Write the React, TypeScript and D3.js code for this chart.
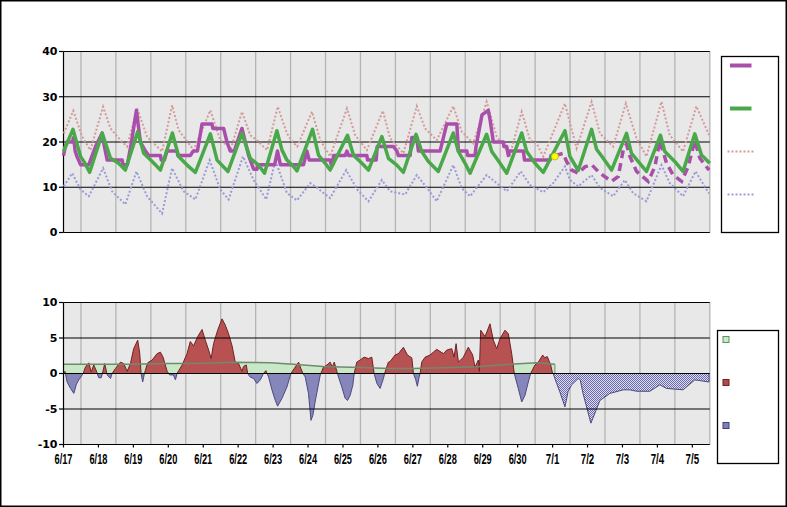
import React from 'react';
import * as d3 from 'd3';

type P = [number, number];

// hours since 6/17 00:00
const dayLabels = ["6/17","6/18","6/19","6/20","6/21","6/22","6/23","6/24","6/25","6/26","6/27","6/28","6/29","6/30","7/1","7/2","7/3","7/4","7/5"];
const topTicks = [0, 10, 20, 30, 40];
const bottomTicks = [-10, -5, 0, 5, 10];

const normalTemp: P[] = [[0,17.9],[6.5,22.8],[11.7,16.8],[14.4,15.5],[18,13.3],[26.6,21.9],[32.3,16.4],[37.9,15.3],[42.5,13.8],[51,22.3],[55.1,17.5],[60.9,15.7],[66.6,13.8],[74.8,22],[79.1,16.8],[84.9,14.9],[90.6,13.3],[100.9,21.8],[105.5,16],[113,13.5],[122.6,21.9],[128.3,16.4],[134,14.9],[138.1,13.1],[146.6,22.5],[150.1,18.2],[153.5,16],[158,14.6],[160.4,13.6],[171.1,22.8],[175.2,17.1],[179.8,15.3],[183.2,13.8],[195.1,21.5],[199.2,17.1],[205,15.3],[209.5,13.8],[218.7,21.2],[223.2,16.4],[229,14.9],[233.5,13.3],[242.2,21.7],[246.1,17.9],[250.7,15.7],[257.5,13.5],[267.8,22],[271.3,17.9],[275.9,15.3],[279.3,13.1],[290.7,21.7],[294.2,17.9],[299.9,15.3],[304.5,13.1],[314.8,22],[318.2,17.9],[323.9,15.3],[329.6,13.3],[344.5,22.5],[347.9,16.8],[353.6,13.7],[362.8,22.8],[366.2,18.4],[370.8,16.4],[376.5,13.8],[386.8,21.9],[390.2,17.5],[395.9,15.3],[400.5,13.5],[410.1,21.5],[413.1,17.9],[419.9,15.7],[425.6,13.5],[433.7,21.8],[438.3,17.1],[444,15.3]];

const observedTemp: P[] = [[0,17],[1.2,19],[2.3,20],[6,20],[7,21],[8,18],[9,17],[11.7,15],[17.4,15],[22,19],[26.6,22],[28.1,19],[30,16],[40.3,16],[40.8,15],[43.9,15],[46.7,20],[50.1,27],[52.8,20],[56.3,18],[58.5,17],[66.6,17],[67.2,16],[69.3,16],[71.1,18],[78,18],[78.6,17],[87.1,17],[89.2,18],[92,18],[95.2,24],[102,24],[102.6,23],[110,23],[112.3,20],[114.6,18],[117.3,18],[122.6,23],[127.2,17],[130.6,14],[132.9,14],[133.8,15],[145.1,15],[147,18],[149,15],[164.9,15],[167.2,18],[168.8,16],[183.2,16],[183.9,15],[184.9,15],[185.5,17],[193.5,17],[194.7,18],[195.9,17],[208.4,17],[208.9,16],[214.8,16],[215.5,19],[226.7,19],[229,18],[230.1,17],[238.1,17],[239.3,21],[242.7,21],[243.8,18],[258.7,18],[263.3,24],[270.2,24],[271.3,18],[277.1,18],[277.6,17],[282.7,17],[283.4,19],[287.5,26],[291.8,27],[293,25],[295.3,20],[302.2,20],[302.6,19],[304.5,19],[305.6,17],[306.4,18],[315.9,18],[316.7,16],[334.2,16],[334.9,17],[337.6,17]];

const forecastTemp: P[] = [[337.6,17],[343.3,17.5],[345.6,15.7],[349.1,13.8],[353.6,13.1],[358.2,14.5],[362.8,15],[368.5,13.1],[376.5,11.3],[381.1,12.4],[384.5,18.2],[386.8,19.5],[389.1,16.8],[393.7,13.5],[401.7,11.3],[406.3,14.6],[409.7,20.3],[414.3,15.3],[418.8,12.7],[424.6,11.3],[429.2,14.6],[433.7,20.3],[437.2,16.4],[443.5,13.8]];

const currentPoint: P = [337.6, 16.8];

const recordHigh: P[] = [[0.2,21.9],[6.7,26.9],[12.8,21.2],[18.5,18.2],[27.2,27.8],[32.3,23],[39.1,20.4],[43.7,19],[50.6,27.4],[57.4,21.2],[62,19.7],[67.7,17.9],[74.6,28.1],[79.1,22.6],[86,19.7],[89.4,18.2],[100.9,27],[107.7,20.4],[115.1,18.6],[122.6,26.7],[128.3,21.5],[132.9,20.4],[139.8,18.2],[147.2,27.8],[153.5,21.9],[157.1,20.1],[160.6,19],[170.7,26.7],[176.4,20.4],[183.2,16.8],[194.7,27.4],[200.4,21.5],[208.4,18.2],[219.4,26.9],[224.4,20.8],[233.5,17.5],[242.7,27.9],[248.4,23],[256.4,20.4],[267.8,27.9],[273.6,22.3],[281.5,19.7],[290.7,28.9],[297.6,21.2],[306.7,17.1],[314.8,26.7],[320.5,20.4],[325,19.7],[329.6,16.8],[344.5,28.5],[352.5,18.6],[362.8,28.9],[368.5,21.9],[377.6,19],[386.3,28.5],[393.7,20.8],[400.5,16.8],[410.8,28.9],[416.5,21.5],[425.6,17.9],[434.8,27.9],[443.5,21.5]];

const recordLow: P[] = [[0.2,10.2],[6,13.1],[11.7,9.5],[17.4,8],[27.2,14.2],[33.4,9.1],[42.5,6.2],[50.1,13.5],[57.4,8],[67.7,4.2],[74.6,14.2],[82.5,9.1],[90.6,7.3],[100.4,16],[107.7,9.5],[113.4,7.3],[123.3,16.8],[130.6,11.6],[139.3,7.3],[145.5,16],[153.5,8.7],[160.4,7.1],[169.5,10.9],[172.9,10.2],[183.2,7.6],[194.2,13.8],[201.7,9.5],[209.5,6.9],[218.7,11.6],[224.4,9.1],[234.7,8.4],[242.7,12.7],[249.6,9.9],[256.4,6.9],[267.8,14.9],[273.6,9.8],[279.3,8],[290.7,12.7],[297.6,10.9],[304.5,9.1],[314.1,13.5],[320.5,10.5],[329.6,8.9],[336.4,10.9],[344.5,14.6],[347.9,11.6],[353.6,10.2],[362.8,12.7],[368.5,9.9],[377.6,8],[385.6,11.6],[391.3,8.7],[400.5,6.9],[410.8,14.9],[416.5,10.9],[425.6,8],[434.2,13.5],[443.5,8.6]];

const baselineDeparture: P[] = [[0,1.3],[46,1.3],[71.2,1.4],[98.6,1.45],[116.8,1.6],[142.2,1.5],[157.9,1.3],[178.5,1.0],[203.8,0.85],[224.4,0.7],[240.2,0.7],[260.8,0.8],[284,0.95],[306.7,1.3],[325,1.5],[337.6,1.3]];

const observedDeparture: P[] = [[0,0],[1,0.3],[2.5,-1.2],[4.8,-2.1],[7.1,-2.8],[8.9,-1.5],[10.5,-0.9],[13.5,0],[15.1,0.9],[17.4,1.5],[19,0.2],[20.8,1.2],[22.3,0.5],[24.2,-0.6],[25.9,-0.6],[27,0.2],[28.3,1.4],[30,-0.2],[32.3,-0.7],[33.4,0],[35.7,0.7],[39.1,1.6],[41.4,1.4],[43.7,0.3],[46,1.4],[48.2,3.5],[51,4.7],[52.4,2.8],[53.3,0],[54.4,-1.2],[55.6,0],[57.8,1.5],[60.9,1.9],[64.3,2.8],[66.6,3.0],[68.4,2.3],[71.2,0.3],[72.9,-0.2],[75.5,-0.2],[76.9,-0.9],[78,0],[81.5,1.2],[84.9,2.8],[87.1,4.5],[89.4,3.9],[92.2,5.2],[95.2,6.2],[97.4,4.7],[99.7,3.3],[101.4,2.1],[103.1,4.2],[105.9,6.1],[108.9,7.7],[111.2,6.8],[113.4,5.6],[115.8,3.9],[118,1.6],[120.3,1.4],[122.6,0.3],[123.7,1.0],[125.6,1.2],[126.5,0],[128.3,-0.5],[130.6,-0.7],[132.9,-1.4],[135.2,-0.9],[137.4,0],[139,0.4],[140.9,-0.5],[143.2,-2.3],[145.5,-3.8],[147.1,-4.6],[150.1,-3.5],[153.5,-1.9],[156.2,0],[159.2,0.9],[161.5,1.6],[163.1,0.7],[164.5,0],[166.1,-0.5],[168.3,-2.8],[170,-6.6],[171.3,-5.9],[173.3,-3.5],[176.4,-0.2],[178.6,0.9],[181,1.2],[183.2,1.6],[184.6,0.9],[186,1.6],[187.8,0.3],[188.9,-0.5],[191.2,-1.9],[193.5,-3.5],[195.1,-3.8],[196.9,-3.1],[198.8,-1.6],[199.7,0],[201.5,1.6],[203.8,1.9],[206.5,2.3],[209.5,2.1],[211.8,2.3],[213.4,0],[215.3,-1.4],[217.5,-2.1],[219.8,-0.7],[220.6,0],[223.2,1.6],[224.4,1.7],[227.8,2.6],[230.1,2.8],[233.5,3.7],[236.3,2.6],[239.3,2.2],[240.4,0],[242,-0.9],[243.1,-1.8],[244.3,-0.5],[245,0],[246.1,1.6],[248.4,2.3],[251.8,2.6],[256.4,3.4],[258.7,3.1],[261,2.8],[263.3,3.3],[266.7,3.5],[268.3,2.3],[269.7,4.2],[271.3,1.6],[274.7,2.3],[278.1,3.7],[281.1,2.6],[282.7,0.9],[285,1.9],[285.7,0.3],[286.6,6.1],[289.6,5.2],[293,7.0],[295.3,4.7],[297.6,3.5],[299.9,4.9],[303.3,6.1],[305.6,5.6],[307.9,2.8],[309.7,0],[312.4,-2.1],[314.8,-4.0],[317,-3.1],[319.3,-1.2],[320.9,0],[323.9,1.2],[326.2,1.6],[329.2,2.6],[330.7,2.2],[332.3,2.4],[334.7,1.2],[336,0]];

const forecastDeparture: P[] = [[336.4,0],[338.8,-1.4],[341,-2.6],[344.5,-4.7],[346.7,-2.5],[349.1,-1.6],[353.6,-0.7],[355,-0.9],[356.9,-2.8],[362.3,-7.0],[366.2,-5.0],[368.5,-3.8],[375.4,-2.8],[384.5,-2.3],[389.1,-2.3],[393.7,-2.5],[402.8,-2.5],[409.7,-1.6],[414.3,-2.1],[425.6,-2.3],[433.7,-0.9],[437.2,-1.0],[443.5,-1.2]];

const FONT = "'DejaVu Sans', Verdana, sans-serif";
const XFONT = "'Liberation Sans Narrow', 'Liberation Sans', Arial, sans-serif";

export default function App() {
  const x = d3.scaleLinear().domain([0, 444]).range([63.5, 709.8]);
  const yT = d3.scaleLinear().domain([0, 40]).range([232.5, 51.5]);
  const yB = d3.scaleLinear().domain([-10, 10]).range([444.5, 302.5]);

  const lineT = d3.line<P>().x(d => x(d[0])).y(d => yT(d[1]));
  const lineB = d3.line<P>().x(d => x(d[0])).y(d => yB(d[1]));
  const areaB = d3.area<P>().x(d => x(d[0])).y0(yB(0)).y1(d => yB(d[1]));

  const noonHours = d3.range(12, 445, 24);
  const dayHours = dayLabels.map((_, i) => i * 24);
  const x0 = 63.5, x1 = 709.8;

  const purple = '#a94fab';
  const green = '#4aa84a';
  const pink = '#d49a9a';
  const lav = '#9a9ad8';

  return (
    <div>
      <style>{`body{margin:0}`}</style>
      <svg width={787} height={507} style={{ display: 'block', background: '#fff' }}>
        <defs>
          <pattern id="hatch" width={2} height={2} patternUnits="userSpaceOnUse">
            <rect width={2} height={2} fill="#dcdcf0" />
            <rect width={1} height={1} fill="#6a6aac" />
            <rect x={1} y={1} width={1} height={1} fill="#6a6aac" />
          </pattern>
          <clipPath id="pos"><rect x={x0} y={302} width={x1 - x0} height={yB(0) - 302} /></clipPath>
          <clipPath id="neg"><rect x={x0} y={yB(0)} width={x1 - x0} height={445 - yB(0)} /></clipPath>
        </defs>
        <rect x={0.75} y={0.75} width={785.5} height={505.5} fill="none" stroke="#000" strokeWidth={1.5} />

        {/* ===== TOP CHART ===== */}
        <rect x={x0} y={yT(40)} width={x1 - x0} height={yT(0) - yT(40)} fill="#e8e8e8" />
        {noonHours.map(h => (
          <line key={'vt' + h} x1={x(h)} x2={x(h)} y1={yT(40)} y2={yT(0)} stroke="#b4b4b4" strokeWidth={1.3} />
        ))}
        {topTicks.map(t => (
          <g key={'tt' + t}>
            <line x1={x0} x2={x1} y1={yT(t)} y2={yT(t)} stroke="#000" strokeWidth={1.2} />
            <line x1={x0 - 4.5} x2={x0} y1={yT(t)} y2={yT(t)} stroke="#000" strokeWidth={1.2} />
            <text x={57.5} y={yT(t)} dy="0.36em" textAnchor="end" fontFamily={FONT} fontWeight="bold" fontSize={11} fill="#000">{t}</text>
          </g>
        ))}
        <line x1={x0} x2={x0} y1={yT(40)} y2={yT(0)} stroke="#000" strokeWidth={1.2} />

        <path d={lineT(recordHigh) || ''} fill="none" stroke={pink} strokeWidth={2} strokeDasharray="2 2" />
        <path d={lineT(recordLow) || ''} fill="none" stroke={lav} strokeWidth={2} strokeDasharray="2 2" />
        <path d={lineT(observedTemp) || ''} fill="none" stroke={purple} strokeWidth={3.5} strokeLinejoin="round" />
        <path d={lineT(forecastTemp) || ''} fill="none" stroke={purple} strokeWidth={3.5} strokeDasharray="8 5" />
        <path d={lineT(normalTemp) || ''} fill="none" stroke={green} strokeWidth={3.5} strokeLinejoin="round" />
        <circle cx={x(currentPoint[0])} cy={yT(currentPoint[1])} r={3.5} fill="#ffff00" stroke="#b8b800" strokeWidth={0.8} />

        {/* top legend */}
        <rect x={721.5} y={56.5} width={57} height={176} fill="#fff" stroke="#000" strokeWidth={1.3} />
        <line x1={730} x2={751.5} y1={65.5} y2={65.5} stroke={purple} strokeWidth={4} />
        <line x1={730} x2={751.5} y1={108.5} y2={108.5} stroke={green} strokeWidth={4} />
        <line x1={727.5} x2={755} y1={151.5} y2={151.5} stroke={pink} strokeWidth={2} strokeDasharray="2 2" />
        <line x1={727.5} x2={755} y1={194.5} y2={194.5} stroke={lav} strokeWidth={2} strokeDasharray="2 2" />

        {/* ===== BOTTOM CHART ===== */}
        <rect x={x0} y={yB(10)} width={x1 - x0} height={yB(-10) - yB(10)} fill="#e8e8e8" />
        {noonHours.map(h => (
          <line key={'vb' + h} x1={x(h)} x2={x(h)} y1={yB(10)} y2={yB(-10)} stroke="#b4b4b4" strokeWidth={1.3} />
        ))}
        <path d={areaB(baselineDeparture) || ''} fill="#c8e8c8" stroke="none" />
        <path d={`M${x(baselineDeparture[baselineDeparture.length - 1][0])},${yB(0)}V${yB(baselineDeparture[baselineDeparture.length - 1][1])}`} stroke="#6f8f6f" strokeWidth={1} />
        <g clipPath="url(#pos)">
          <path d={areaB(observedDeparture) || ''} fill="#b85252" stroke="#702222" strokeWidth={1} />
        </g>
        <g clipPath="url(#neg)">
          <path d={areaB(observedDeparture) || ''} fill="#8686ba" stroke="#4a4a80" strokeWidth={1} />
        </g>
        <path d={areaB(forecastDeparture) || ''} fill="url(#hatch)" stroke="#4a4a80" strokeWidth={1} />
        <path d={lineB(baselineDeparture) || ''} fill="none" stroke="#6f8a6f" strokeWidth={1.5} />

        {bottomTicks.map(t => (
          <g key={'bt' + t}>
            <line x1={x0} x2={x1} y1={yB(t)} y2={yB(t)} stroke="#000" strokeWidth={1.2} />
            <line x1={x0 - 4.5} x2={x0} y1={yB(t)} y2={yB(t)} stroke="#000" strokeWidth={1.2} />
            <text x={57.5} y={yB(t)} dy="0.36em" textAnchor="end" fontFamily={FONT} fontWeight="bold" fontSize={11} fill="#000">{t}</text>
          </g>
        ))}
        <line x1={x0} x2={x0} y1={yB(10)} y2={yB(-10)} stroke="#000" strokeWidth={1.2} />
        {dayHours.map((h, i) => (
          <g key={'dl' + i}>
            <line x1={x(h)} x2={x(h)} y1={yB(-10)} y2={yB(-10) + 3} stroke="#000" strokeWidth={1.2} />
            <text x={x(h)} y={464} textAnchor="middle" fontFamily={XFONT} fontWeight="bold" fontSize={14}
              textLength={dayLabels[i].length * 4.5} lengthAdjust="spacingAndGlyphs" fill="#000">{dayLabels[i]}</text>
          </g>
        ))}

        {/* bottom legend */}
        <rect x={717.5} y={330.5} width={61} height={133} fill="#fff" stroke="#000" strokeWidth={1.3} />
        <rect x={723} y={336.5} width={6} height={6} fill="#c8e8c8" stroke="#5f8f5f" strokeWidth={1} />
        <rect x={723} y={379.5} width={6} height={6} fill="#b04848" stroke="#702020" strokeWidth={1} />
        <rect x={723} y={422.5} width={6} height={6} fill="#8080b8" stroke="#404078" strokeWidth={1} />
      </svg>
    </div>
  );
}
